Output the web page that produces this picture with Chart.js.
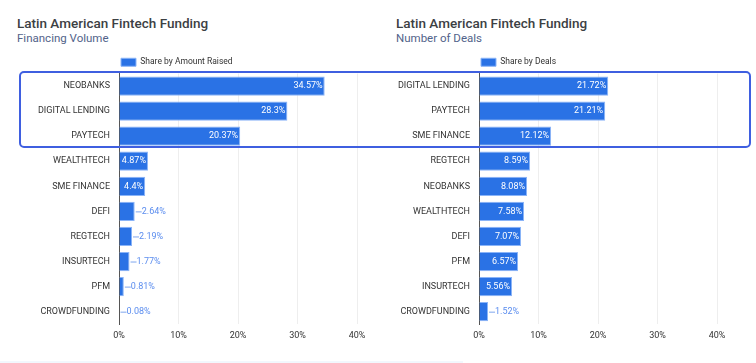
<!DOCTYPE html>
<html>
<head>
<meta charset="utf-8">
<script src="https://cdn.jsdelivr.net/npm/chart.js@4/dist/chart.umd.min.js"></script>
<style>
  body { margin: 0; background: #fff; font-family: Roboto, sans-serif; }
  #wrap { position: relative; width: 756px; height: 363px; overflow: hidden; }
  .title { position: absolute; font-size: 13.5px; font-weight: 500; color: #3c4043; white-space: nowrap; }
  .sub { position: absolute; font-size: 11.5px; color: #52638a; white-space: nowrap; }
  .cv { position: absolute; top: 50px; }
  #box { position: absolute; left: 19px; top: 71px; width: 728px; height: 73px;
         border: 2px solid #3f5fe0; border-radius: 5px; pointer-events: none; }
  #foot { position: absolute; left: 0; top: 361px; width: 463px; height: 2px; background: #f2f7fd; }
</style>
</head>
<body>
<div id="wrap">
  <div class="title" style="left:17px;top:15px;">Latin American Fintech Funding</div>
  <div class="sub" style="left:17px;top:31px;">Financing Volume</div>
  <div class="title" style="left:396px;top:15px;">Latin American Fintech Funding</div>
  <div class="sub" style="left:396px;top:31px;">Number of Deals</div>
  <div class="cv" style="left:0;width:378px;height:313px;"><canvas id="amountChart"></canvas></div>
  <div class="cv" style="left:378px;width:378px;height:313px;"><canvas id="dealsChart"></canvas></div>
  <div id="box"></div>
  <div id="foot"></div>
</div>
<script>
// Share by amount raised (left)
const amountLabels = ['NEOBANKS', 'DIGITAL LENDING', 'PAYTECH', 'WEALTHTECH', 'SME FINANCE',
                      'DEFI', 'REGTECH', 'INSURTECH', 'PFM', 'CROWDFUNDING'];
const amountValues = [34.57, 28.3, 20.37, 4.87, 4.4, 2.64, 2.19, 1.77, 0.81, 0.08];

// Share by number of deals (right)
const dealsLabels = ['DIGITAL LENDING', 'PAYTECH', 'SME FINANCE', 'REGTECH', 'NEOBANKS',
                     'WEALTHTECH', 'DEFI', 'PFM', 'INSURTECH', 'CROWDFUNDING'];
const dealsValues = [21.72, 21.21, 12.12, 8.59, 8.08, 7.58, 7.07, 6.57, 5.56, 1.52];

const xTicks = [0, 10, 20, 30, 40];

const BAR = '#2a72e5';
const BAR_EDGE = '#8ab4f8';
const LABEL_FONT = '9px Roboto, sans-serif';

// draws the value labels: inside the bar when it fits, else outside with a short leader
const valueLabels = {
    id: 'valueLabels',
    afterDatasetsDraw(chart) {
        const ctx = chart.ctx;
        const meta = chart.getDatasetMeta(0);
        const data = chart.data.datasets[0].data;
        ctx.save();
        ctx.font = LABEL_FONT;
        ctx.textBaseline = 'middle';
        meta.data.forEach((bar, i) => {
            const txt = data[i] + '%';
            const w = ctx.measureText(txt).width;
            const barW = bar.x - bar.base;
            if (w + 4 < barW) {
                ctx.fillStyle = '#ffffff';
                ctx.textAlign = 'right';
                ctx.fillText(txt, bar.x - 2, bar.y);
            } else {
                ctx.strokeStyle = '#7fa6ee';
                ctx.lineWidth = 1;
                ctx.beginPath();
                ctx.moveTo(bar.x + 1, bar.y + 0.5);
                ctx.lineTo(bar.x + 7, bar.y + 0.5);
                ctx.stroke();
                ctx.fillStyle = '#5b8def';
                ctx.textAlign = 'left';
                ctx.fillText(txt, bar.x + 7, bar.y);
            }
        });
        ctx.restore();
    }
};

// nudge the legend a few pixels down without moving the plot area
const legendNudge = {
    id: 'legendNudge',
    afterLayout(chart) {
        if (chart.legend) {
            chart.legend.top += 3;
            chart.legend.bottom += 3;
        }
    }
};

function makeChart(id, labels, values, legendText, yWidth, padRight) {
    const ctx = document.getElementById(id).getContext('2d');
    return new Chart(ctx, {
        type: 'bar',
        data: {
            labels: labels,
            datasets: [{
                label: legendText,
                data: values,
                backgroundColor: BAR,
                borderColor: BAR_EDGE,
                borderWidth: 1,
                borderSkipped: 'left',
                barPercentage: 0.8,
                categoryPercentage: 0.96
            }]
        },
        options: {
            indexAxis: 'y',
            responsive: true,
            maintainAspectRatio: false,
            animation: false,
            layout: { padding: { left: 0, right: padRight, top: 3, bottom: 16 } },
            plugins: {
                legend: {
                    fullSize: false,
                    align: 'start',
                    labels: {
                        boxWidth: 15,
                        boxHeight: 8,
                        padding: 2,
                        color: '#333',
                        font: { family: 'Roboto', size: 8.5 }
                    }
                },
                tooltip: { enabled: false }
            },
            scales: {
                x: {
                    min: 0,
                    max: 40,
                    afterBuildTicks: s => { s.ticks = xTicks.map(v => ({ value: v })); },
                    ticks: {
                        callback: v => v + '%',
                        color: '#333',
                        font: { family: 'Roboto', size: 9 },
                        padding: 6
                    },
                    grid: { color: '#eeeeee', drawTicks: false },
                    border: { display: false }
                },
                y: {
                    afterFit: s => { s.width = yWidth; },
                    ticks: {
                        color: '#333',
                        font: { family: 'Roboto', size: 9 },
                        padding: 9
                    },
                    grid: { display: false, drawTicks: false },
                    border: { color: '#555', width: 1 }
                }
            }
        },
        plugins: [valueLabels, legendNudge]
    });
}

makeChart('amountChart', amountLabels, amountValues, 'Share by Amount Raised', 119, 21);
makeChart('dealsChart', dealsLabels, dealsValues, 'Share by Deals', 101, 39);
</script>
</body>
</html>
